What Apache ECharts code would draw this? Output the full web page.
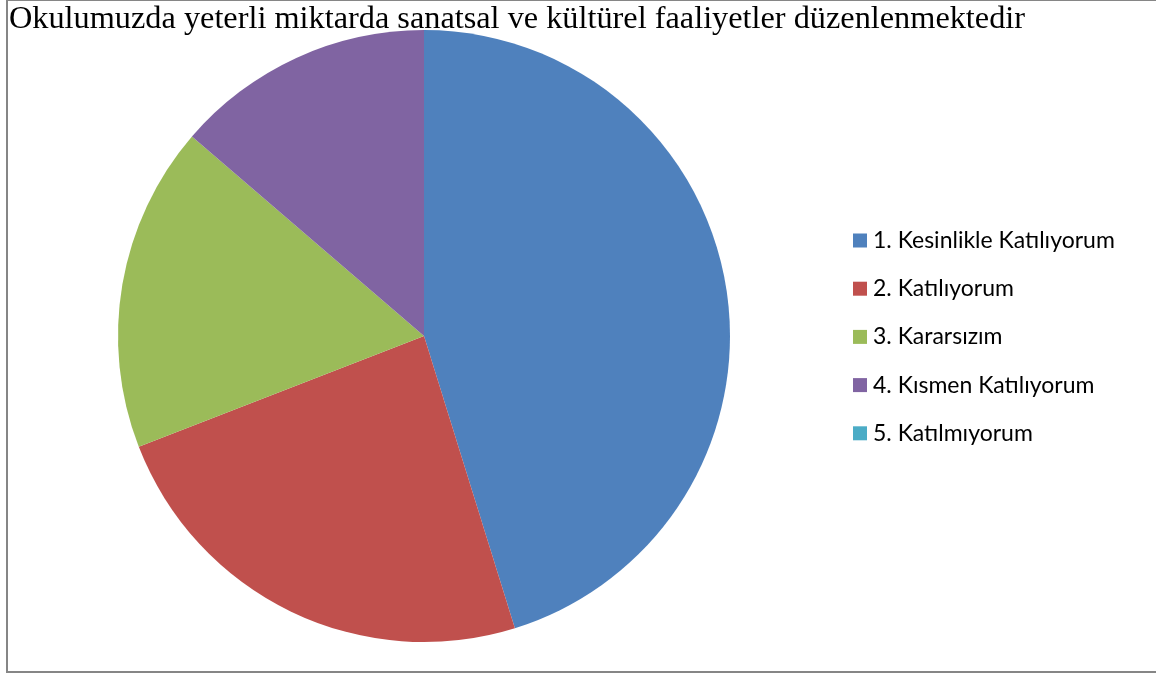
<!DOCTYPE html>
<html>
<head>
<meta charset="utf-8">
<script src="https://cdn.jsdelivr.net/npm/echarts@6/dist/echarts.min.js"></script>
<style>
  html, body { margin: 0; padding: 0; background: #fff; }
  #chart { width: 1156px; height: 675px; }
</style>
</head>
<body>
<div id="chart"></div>
<script>
const chartTitle = 'Okulumuzda yeterli miktarda sanatsal ve kültürel faaliyetler düzenlenmektedir';
const categories = ['1. Kesinlikle Katılıyorum', '2. Katılıyorum', '3. Kararsızım', '4. Kısmen Katılıyorum', '5. Katılmıyorum'];
const values = [45.2, 23.9, 17.2, 13.7, 0];
const colors = ['#4F81BD', '#C0504D', '#9BBB59', '#8064A2', '#4BACC6'];

const chart = echarts.init(document.getElementById('chart'));

const option = {
    backgroundColor: '#fff',
    animation: false,
    color: colors,
    title: {
        text: chartTitle,
        left: 4,
        top: -1,
        textStyle: {
            fontFamily: 'Liberation Serif',
            fontWeight: 'normal',
            fontSize: 32.3,
            color: '#000'
        }
    },
    legend: {
        orient: 'vertical',
        left: 848,
        top: 224,
        itemWidth: 14,
        itemHeight: 14,
        itemGap: 25.2,
        icon: 'rect',
        data: categories,
        textStyle: {
            fontFamily: 'Lato',
            fontSize: 23,
            lineHeight: 23,
            color: '#000',
            padding: [0, 0, 0, 1]
        }
    },
    graphic: [{
        type: 'rect',
        shape: { x: 7, y: 0, width: 1170, height: 672 },
        style: { fill: 'none', stroke: '#868686', lineWidth: 2 },
        silent: true
    }],
    series: [{
        type: 'pie',
        center: [424, 336],
        radius: [0, 306],
        startAngle: 90,
        clockwise: true,
        label: { show: false },
        labelLine: { show: false },
        itemStyle: { borderWidth: 0 },
        data: categories.map((c, i) => ({ name: c, value: values[i] }))
    }]
};

chart.setOption(option);
</script>
</body>
</html>
